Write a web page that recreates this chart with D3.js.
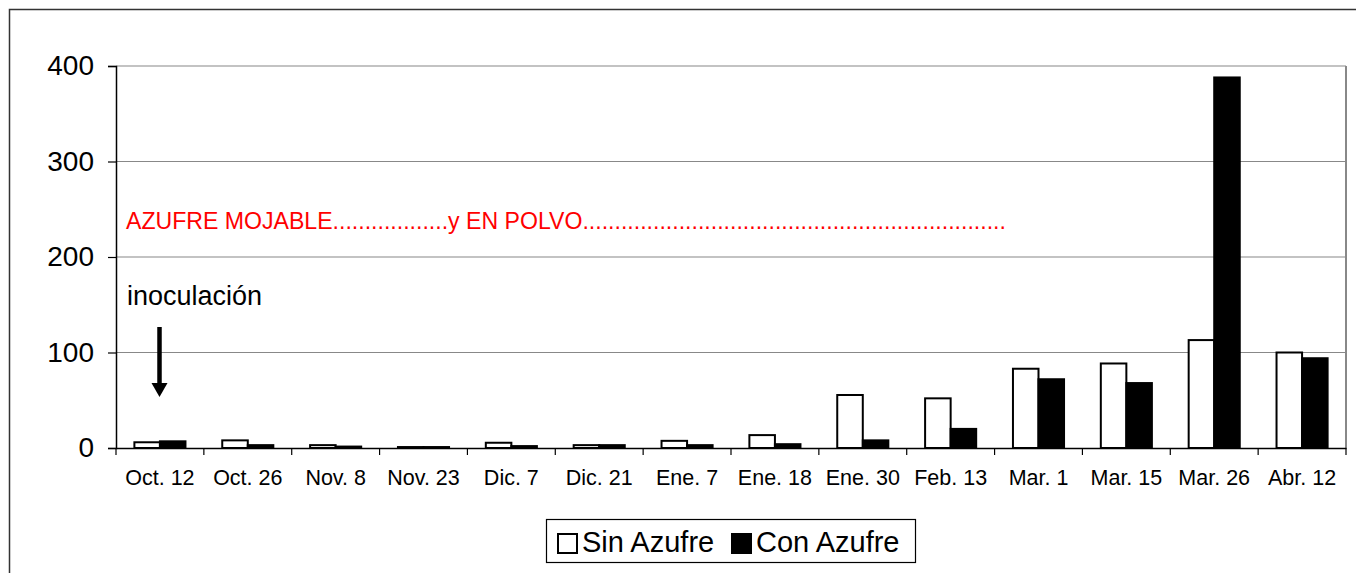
<!DOCTYPE html>
<html>
<head>
<meta charset="utf-8">
<script src="https://cdn.jsdelivr.net/npm/d3@7"></script>
<style>
  body { margin: 0; background: #fff; }
  svg { display: block; font-family: "Liberation Sans", Arial, sans-serif; }
</style>
</head>
<body>
<svg id="chart" width="1356" height="573"></svg>
<script>
// Chart data
const fechas = ['Oct. 12', 'Oct. 26', 'Nov. 8', 'Nov. 23', 'Dic. 7', 'Dic. 21', 'Ene. 7',
  'Ene. 18', 'Ene. 30', 'Feb. 13', 'Mar. 1', 'Mar. 15', 'Mar. 26', 'Abr. 12'];
const sinAzufre = [6, 8, 3, 1, 5.5, 3, 7.5, 13.5, 55.5, 52, 83, 88.5, 113, 100];
const conAzufre = [7, 3, 1.5, 1, 2, 3, 3, 4, 8, 20, 72, 68, 388, 94];
const series = ['Sin Azufre', 'Con Azufre'];
const yTicks = [0, 100, 200, 300, 400];

const svg = d3.select('#chart');
const plot = { left: 116, right: 1346, top: 66, bottom: 448 };

// outer frame (open on right/bottom, as in the picture)
svg.append('path')
  .attr('d', 'M9.5,573 V9.5 H1356')
  .attr('fill', 'none')
  .attr('stroke', '#333')
  .attr('stroke-width', 1.5);

const x = d3.scaleBand().domain(fechas).range([plot.left, plot.right]).padding(0);
const x1 = d3.scaleBand().domain(series).range([0, x.bandwidth()]).paddingInner(0).paddingOuter(0.72);
const y = d3.scaleLinear().domain([0, 400]).range([plot.bottom, plot.top]);

// gridlines
svg.append('g')
  .selectAll('line')
  .data(yTicks.filter(d => d > 0))
  .enter().append('line')
  .attr('x1', plot.left).attr('x2', plot.right)
  .attr('y1', d => y(d)).attr('y2', d => y(d))
  .attr('stroke', '#888').attr('stroke-width', 1.2);

// right plot border
svg.append('line')
  .attr('x1', plot.right).attr('x2', plot.right)
  .attr('y1', plot.top).attr('y2', plot.bottom)
  .attr('stroke', '#888').attr('stroke-width', 2);

// bars
const rows = fechas.map((f, i) => ({ fecha: f, vals: [sinAzufre[i], conAzufre[i]] }));
const groups = svg.append('g')
  .selectAll('g')
  .data(rows)
  .enter().append('g')
  .attr('transform', d => `translate(${x(d.fecha)},0)`);

groups.selectAll('rect')
  .data(d => d.vals.map((v, j) => ({ key: series[j], v })))
  .enter().append('rect')
  .attr('x', d => x1(d.key))
  .attr('y', d => y(d.v))
  .attr('width', x1.bandwidth())
  .attr('height', d => y(0) - y(d.v))
  .attr('fill', d => d.key === 'Sin Azufre' ? '#fff' : '#000')
  .attr('stroke', '#000')
  .attr('stroke-width', 2);

// y axis
const yAxis = svg.append('g')
  .attr('transform', `translate(${plot.left},0)`)
  .call(d3.axisLeft(y).tickValues(yTicks).tickSize(8).tickPadding(14));
yAxis.select('.domain').attr('stroke', '#000').attr('stroke-width', 1.5);
yAxis.selectAll('.tick line').attr('stroke', '#000').attr('stroke-width', 1.2);
yAxis.selectAll('text')
  .attr('font-size', 28)
  .attr('font-family', '"Liberation Sans", Arial, sans-serif')
  .attr('fill', '#000');

// x axis (ticks at category boundaries)
const xAxis = svg.append('g')
  .attr('transform', `translate(0,${plot.bottom})`)
  .call(d3.axisBottom(x).tickSize(0).tickPadding(22));
xAxis.select('.domain').attr('stroke', '#000').attr('stroke-width', 1.5);
xAxis.selectAll('text')
  .attr('font-size', 21.5)
  .attr('font-family', '"Liberation Sans", Arial, sans-serif')
  .attr('fill', '#000');
const bounds = fechas.map(f => x(f)).concat([x(fechas[fechas.length - 1]) + x.bandwidth()]);
svg.append('g')
  .selectAll('line')
  .data(bounds)
  .enter().append('line')
  .attr('x1', d => d).attr('x2', d => d)
  .attr('y1', plot.bottom).attr('y2', plot.bottom + 7)
  .attr('stroke', '#000').attr('stroke-width', 1.2);

// annotations
svg.append('text')
  .attr('x', 126).attr('y', 229)
  .attr('font-size', 23.1)
  .attr('fill', '#ff0000')
  .text('AZUFRE MOJABLE' + '.'.repeat(18) + 'y EN POLVO' + '.'.repeat(66));

svg.append('text')
  .attr('x', 127).attr('y', 305)
  .attr('font-size', 27)
  .attr('fill', '#000')
  .text('inoculación');

svg.append('line')
  .attr('x1', 159.5).attr('x2', 159.5)
  .attr('y1', 327).attr('y2', 384)
  .attr('stroke', '#000').attr('stroke-width', 4.5);
svg.append('path')
  .attr('d', 'M151.5,383 L167.5,383 L159.5,397 Z')
  .attr('fill', '#000');

// legend
const legend = svg.append('g');
legend.append('rect')
  .attr('x', 546.5).attr('y', 519.5)
  .attr('width', 369).attr('height', 43)
  .attr('fill', '#fff').attr('stroke', '#000').attr('stroke-width', 1.2);
const legendItems = [
  { key: 'Sin Azufre', sx: 558, tx: 582 },
  { key: 'Con Azufre', sx: 732, tx: 756 }
];
legend.selectAll('g')
  .data(legendItems)
  .enter().append('g')
  .each(function (d) {
    const g = d3.select(this);
    g.append('rect')
      .attr('x', d.sx).attr('y', 534)
      .attr('width', 19).attr('height', 19)
      .attr('fill', d.key === 'Sin Azufre' ? '#fff' : '#000')
      .attr('stroke', '#000').attr('stroke-width', 2);
    g.append('text')
      .attr('x', d.tx).attr('y', 552)
      .attr('font-size', 29)
      .attr('fill', '#000')
      .text(d.key);
  });
</script>
</body>
</html>
